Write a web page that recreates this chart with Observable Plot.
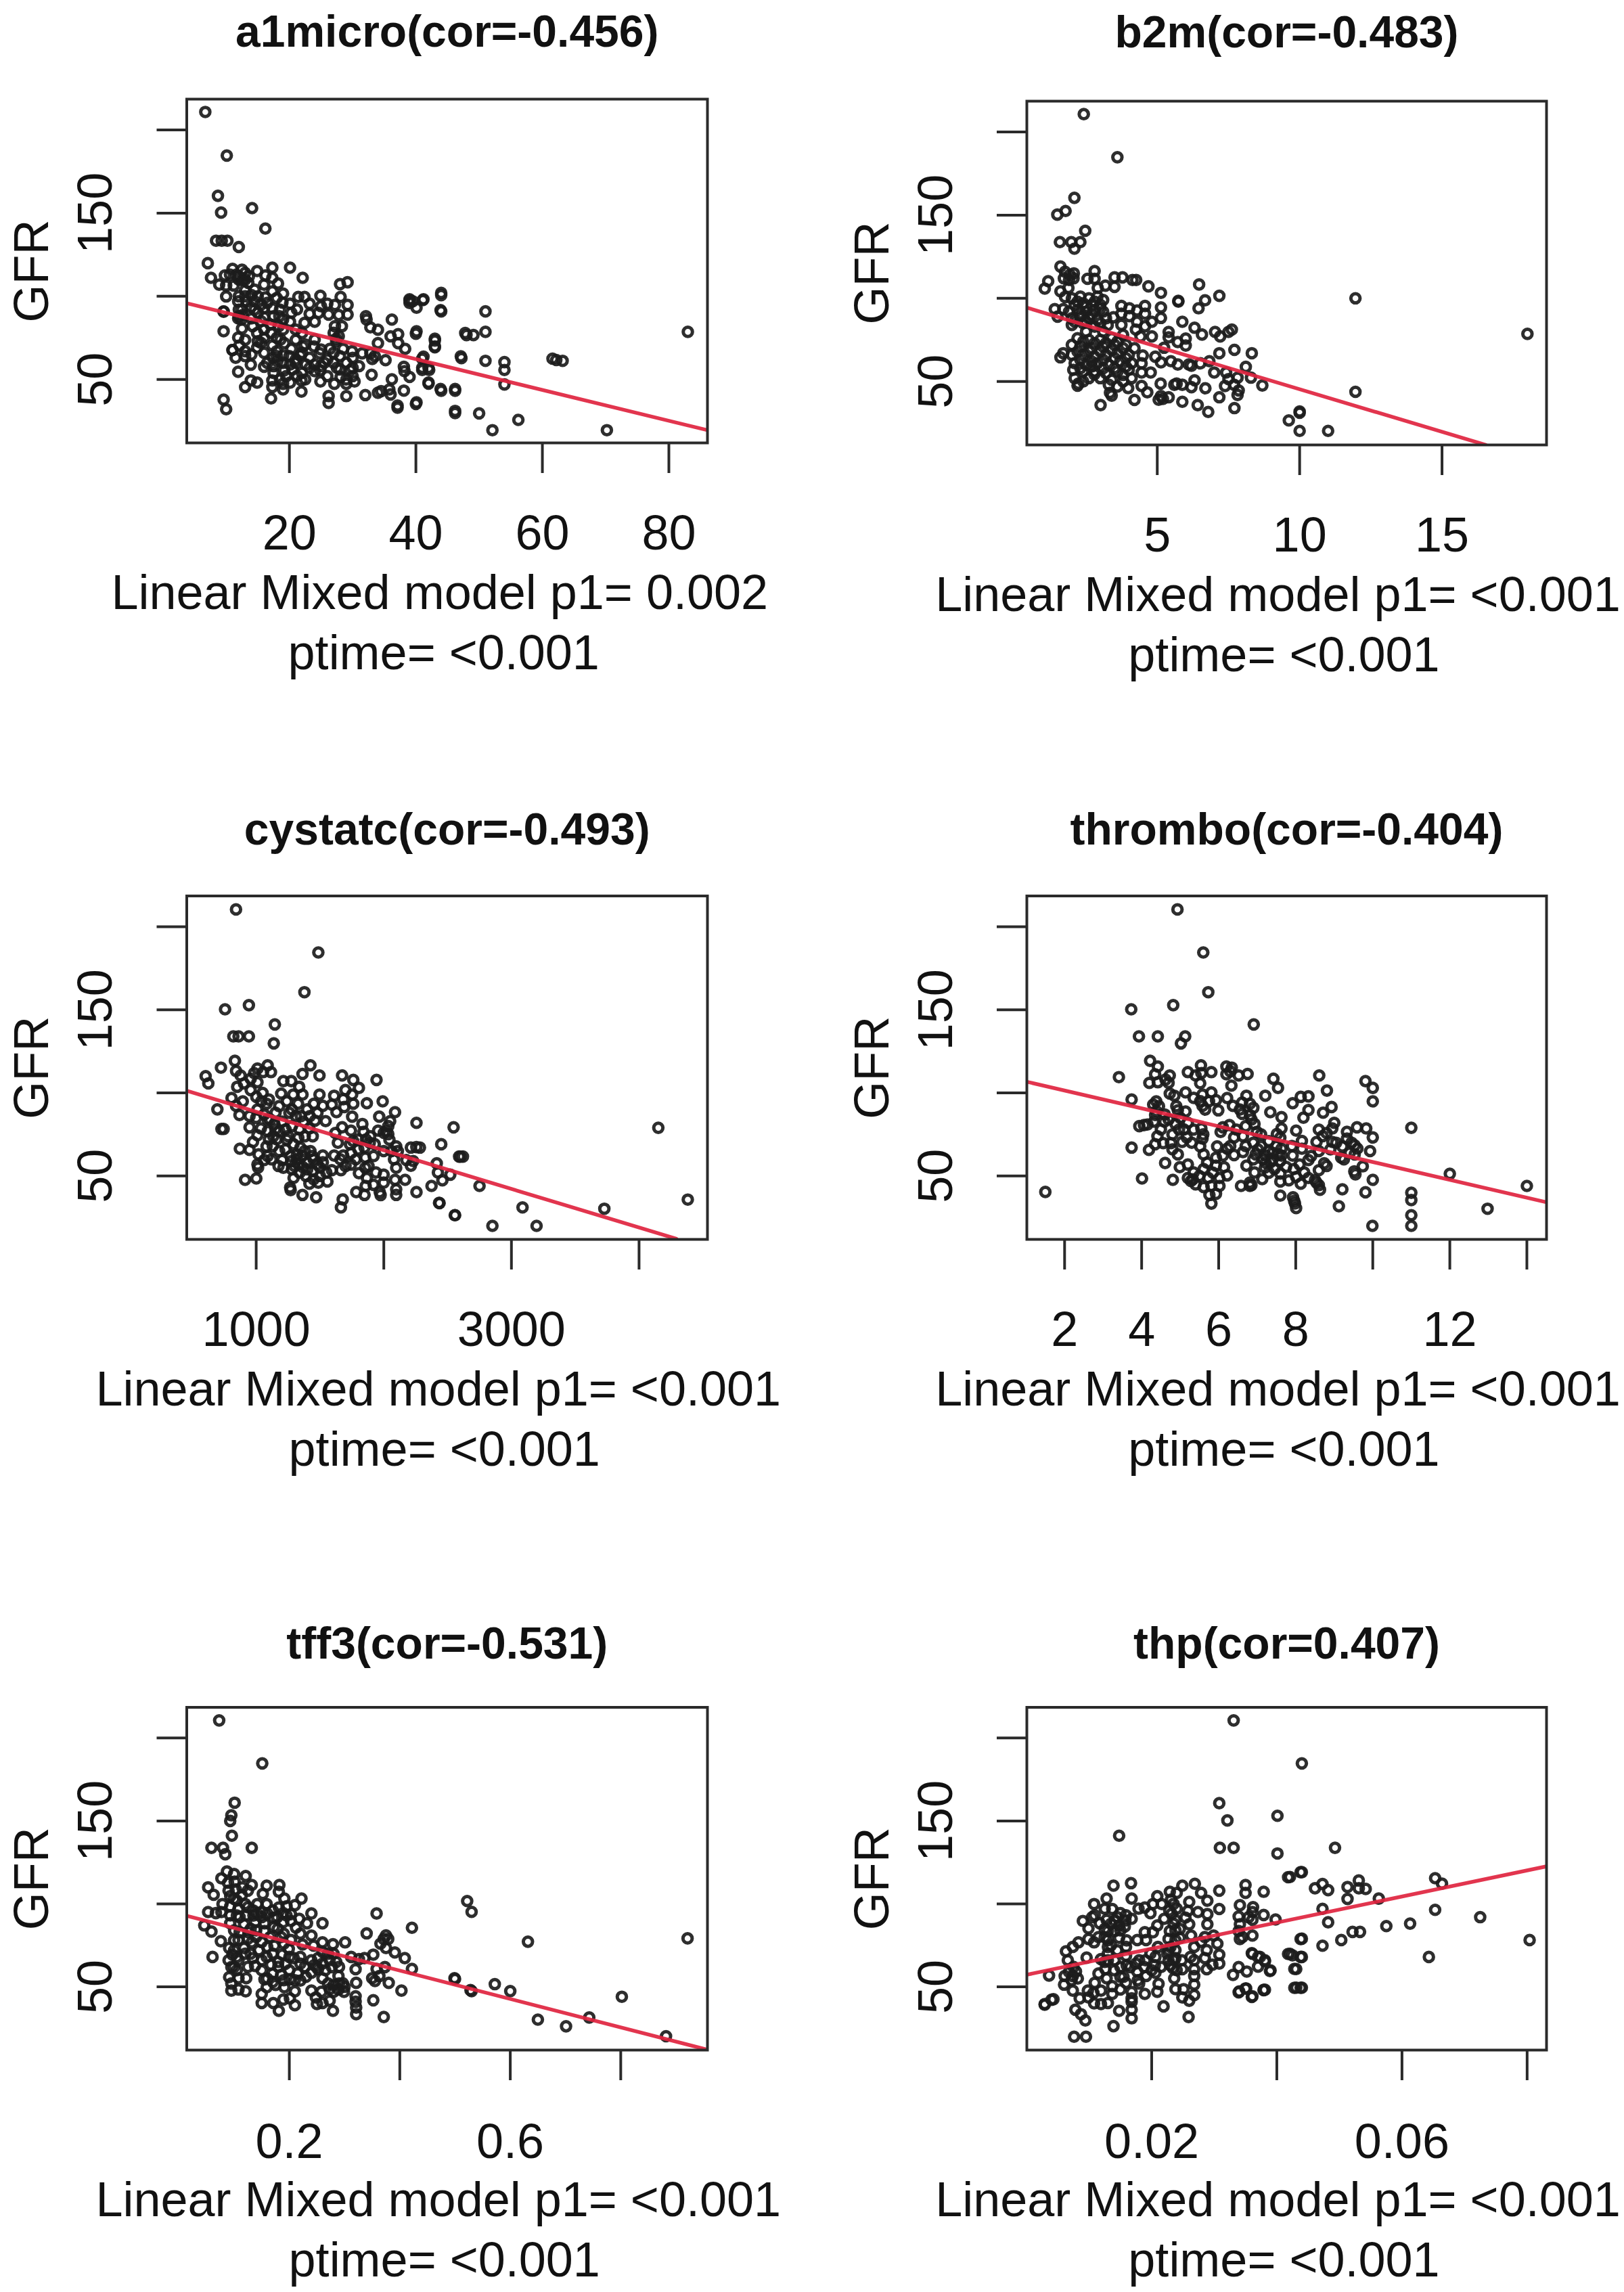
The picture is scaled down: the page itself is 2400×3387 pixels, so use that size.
<!DOCTYPE html>
<html><head><meta charset="utf-8">
<script src="https://cdn.jsdelivr.net/npm/d3@7"></script>
<script src="https://cdn.jsdelivr.net/npm/@observablehq/plot@0.6"></script>
<style>html,body{margin:0;padding:0;background:#fff}#page{position:relative;width:2400px;height:3387px;background:#fff;overflow:hidden}#page>div,#page>svg{position:absolute}</style>
</head><body><div id="page"></div>
<script>
const gfrDomain=[11.85,218.5];
const gfrTicks=[50,100,150,200];
const gfrLabelled=[50,150];

const a1microTicks=[20,40,60,80], a1microLabelled=[20,40,60,80], a1microDomain=[3.77,86.1];
const a1microFit=[[3.77,95.8],[86.1,19.5]];
const a1micro=[[6.7,210.8],[10.1,184.6],[8.7,160.4],[9.2,150.3],[14.1,153],[16.2,140.7],[8.4,133.4],[9.3,133.4],[10.2,133.4],[12,129.6],
[7.1,119.9],[7.6,111.1],[8.9,107],[9.8,112.5],[11,116.5],[10.6,113],[11.6,113],[12.6,109.7],[12,112],[13,110],[13.6,112],[14.9,115.2],[17.3,117.2],[16.2,112.5],[17.3,111.1],[16,107],[18.2,107.7],[20.1,117.2],[22.1,111.1],[10,106.4],[11.2,106.4],[13,103.6],[10,99.9],[14,100.7],[16.2,99.3],[17.3,103],[19,101.6],[11.9,96.9],[13.2,96.9],[13.9,93.5],[16,92.8],[17.3,92.8],[18.9,96.2],[20.1,95.5],[21.4,99.6],[22.4,99.6],[21.2,92.1],[23.2,95.5],[23.2,89.4],[24.9,100.3],[26,95.5],[28.1,99.6],[29.2,94.8],[28,107.3],[29.2,108.4],[27.2,94.8],[26.2,89],[29.2,89],[27.8,88.7],[25,94],[24.6,90],[12,92],[12,88],[14.5,97],[15.5,95],[18,99],[9.6,90.8],[9.6,90.8],[11.9,86.7],[12.6,88.7],[14,86.7],[15,90],[20.3,90.1],[18.4,88],[20.1,84.7],[22.4,84],[24,84.7],[18.3,82],[16,87.4],[14.2,82],[12.5,80.6],[9.6,79],[11.9,75.2],[13,73.8],[14.9,77.9],[17.1,77.9],[16,80],[16,75],[18,75],[19.2,71.8],[21,73.8],[22,77.9],[11,67.7],[11,67.7],[12.1,70.4],[13,67],[14,65],[14.9,69.1],[15.5,72],[17.3,70.4],[18.6,74],[17.4,63],[19,64.4],[20.3,68.4],[21.7,64.4],[22.1,69.8],[23.9,69.8],[23.2,63],[24.8,65.7],[26.4,68.4],[27.4,74.5],[27.4,73],[27.8,76],[27.2,82],[28.3,82],[27,78],[28.5,68.4],[29.9,67],[31.5,65.7],[32.8,65.7],[32.1,88],[32.2,86],[32.8,81.3],[34,79.9],[36.2,86],[36,75.9],[37.2,77.2],[37.2,71.8],[34,71.8],[38.3,68.4],[40.1,78.9],[39,98.2],[39,96],[39.5,97],[41.2,98.2],[40.1,93.1],[44,102],[43.9,91.7],[47.8,77.9],[43,74.5],[43,69.8],[47.1,63.9],[41.2,63.7],[42,56.9],[41,57],[38.1,57.6],[38.2,55],[39,51.5],[42,48.1],[43.9,44.3],[46.2,44.3],[46.2,31.1],[40.1,36.2],[37.1,34.3],[38.1,43.3],[36.2,50.1],[35.8,44],[36,41],[34.5,43],[34,42],[32,40.6],[33,52.8],[35.2,61.6],[33.1,62.3],[33.5,64],[29,40],[26.2,35.9],[26.2,40],[27.1,47.4],[29,47.4],[30.3,48.8],[28.1,51.5],[24.9,48.8],[24.9,55.5],[29.6,55.5],[30,52],[29,60],[31,58],[27.5,57],[26,62],[23.2,56.9],[21.9,42.7],[21.9,49.4],[21.2,52.1],[20.1,48.1],[19,47.4],[19,44],[19.2,55.5],[17.3,49.4],[17.1,38.6],[17.3,45.4],[14.9,48.1],[13.9,49.4],[13,45.4],[11.9,54.6],[13.9,58.9],[16,57.6],[9.6,37.9],[10,32.1],[17.5,58],[18.1,61],[20.1,59],[22,54],[16,66],[18,67],[21,62],[25.5,60],[22.6,59],[24,59],
[83,78.6],[70.2,19.5],[56.2,25.7],[52.1,19.5],[50,29.6],[46.2,29.8],[40,35.3],[37.1,33],[46.2,43.2],[44,43.2],[54,47],[54,55.7],[54,60.4],[51,61.2],[47.2,62.8],[61.6,62.5],[62.2,61.7],[63.2,61.2],[51,78.6],[51,90.9],[48,76.7],[49.1,76.7],[44,100.7],[44,90.9],[41.1,97.7],[39,97.4],[40,77.5],[43,73.4],[43,69.3],[41,62.5],[41,55.7],[42.1,55.7],[42,47.5],
[16.5,60],[17.5,54],[18.5,50],[19.5,52],[20.5,56],[21,60],[22.5,50],[19,60],[18,64],[20,64],[22,66],[24,55],[25,58],[26,52],[27,60],[28,56],[29,50],[30,57],[28,64],[30,63],[25,68],[27,66],[12,110],[13,114],[12.5,116],[13.5,108],[14.5,104],[12,100],[12.5,92],[12.4,86],[13,100],[15,100],[14.5,92],[16.5,96],[17.5,88],[18.5,92],[19,86],[22.5,71],[24,74],[15.5,85],[17,83],[19,80],[21,80],[13,64],[11.5,63],[15,73]];

const b2mTicks=[5,10,15], b2mLabelled=[5,10,15], b2mDomain=[0.42,18.67];
const b2mFit=[[0.42,94.4],[16.53,11.9]];
const b2m=[[2.42,210.7],[3.6,184.8],[2.09,160.4],[1.78,152.5],[1.49,150.3],[2.47,140.6],[1.58,133.8],[1.98,133.8],[2.3,133.8],[2.09,129.8],[18,78.6],[11.96,100],[11.96,43.8],[11,20.3],[10,20.3],[9.62,26.6],[10,31.2],[10,32],[1.6,119.1],[1.76,116],[1.93,114],[2.06,112],[1.9,111],[1.72,112],[2.07,115],[1.17,110.3],[1.05,105.8],[1.6,104.2],[1.88,106.2],[1.76,100.8],[2.55,111.7],[2.8,116.4],[2.8,111.7],[3.5,112.6],[3.78,112.6],[4.13,111],[4.26,111],[2.91,106.2],[3.18,107.6],[3.5,106.9],[4.69,107.2],[5.13,103.3],[6.47,108.3],[7.18,101.5],[6.68,98.8],[6.45,94],[5.74,98.5],[5.74,98],[5.88,85.9],[6.31,82.3],[6.57,78.2],[7.03,79.8],[7.21,77.1],[7.5,79.8],[7.62,81.2],[5.4,79.8],[5.4,76.5],[6,75.8],[5.72,73.7],[6,71.6],[7.18,67],[7.71,69],[8.32,67],[8.11,58.8],[8.29,52.3],[8.69,47.6],[7,55.4],[7.42,55.4],[7.5,51.4],[7.82,52.3],[7.38,47.3],[7.7,48],[7.86,44.6],[7.82,41.9],[7.18,40.5],[7.71,34],[6.79,31.7],[6.42,35.8],[5.88,37.8],[6.69,45.9],[6.2,46.6],[6.31,50.7],[5.68,48.7],[5.6,48],[5.88,48],[5.4,40.5],[5.13,41.2],[5.2,39.5],[5.05,39],[5.12,48.7],[4.2,38.9],[3.01,35.8],[4.65,43.5],[3.98,46],[4.45,47.3],[3.34,43.2],[3.4,41.5],[3.3,48],[2.23,48.7],[2.2,47.5],[2.79,54.3],[4.45,55.4],[4.77,55.4],[4.49,65.6],[4.45,60.9],[4.93,64.9],[5.13,61.5],[5.48,62.2],[5.72,60.2],[6.11,60.2],[6.2,59.5],[6.51,60.9],[6.83,62.2],[5.24,70.3],[4.81,77.1],[4.41,77.1],[4.57,83.2],[4.81,85.9],[4.25,81.2],[4.29,85.9],[5.13,88.2],[5.13,94.5],[4.57,90.7],[4.57,95.4],[4.29,92.7],[4.02,94],[4.02,89.3],[3.74,95.4],[3.74,90.7],[3.46,88.6],[3.26,83.9],[3.74,84],[2.0,100],[2.3,101],[2.6,100],[2.9,101],[3.1,99],[2.1,96],[2.4,97],[2.7,96],[3,96],[1.9,92],[2.2,93],[2.5,92],[2.8,93],[3.1,92],[1.4,93.5],[1.7,93.5],[1.5,89],[2,88],[2.3,89],[2.6,88],[2.9,87],[3.2,88],[2,84],[2.4,85],[2.8,83],[3.1,80],[2.5,80],[2.2,76],[2.6,75],[3,75],[3.4,76],[3.8,78],[2,72],[2.3,71],[2.7,70],[3.1,71],[3.5,72],[3.9,72],[4.2,70],[1.7,67],[1.6,64.5],[2,66],[2.4,66],[2.8,65],[3.2,66],[3.6,67],[4,66],[2.1,61],[2.5,60],[2.9,61],[3.3,60],[3.7,62],[4.1,61],[2.05,57],[2.4,56],[2.8,56],[3.2,55],[3.6,56],[4,57],[2.1,52],[3.4,51],[3.8,50],[4.1,52],[3.6,47],
[2.2,98],[2.5,95],[2.8,98],[3,94],[2.3,91],[2.7,90],[2.1,86],[2.5,86],[3,85],[2.4,74],[2.8,73],[3.2,73],[3.6,74],[2.2,68],[2.6,68],[3,68],[3.4,69],[3.8,70],[2.3,63],[2.7,62],[3.1,63],[3.5,64],[3.9,64],[2.3,58],[2.7,59],[3.1,58],[3.5,58],[3.9,59],[2.6,52],[3,52],[3.8,54],[2.4,50]];

const cystatcTicks=[1000,2000,3000,4000], cystatcLabelled=[1000,3000], cystatcDomain=[456,4536];
const cystatcFit=[[456,101.3],[4293,12.2]];
const cystatc=[[842,210.4],[1487,184.5],[1378,160.6],[756,150.3],[943,152.8],[1146,141.2],[1138,129.8],[821,134],[862,134],[943,134],[4151,79],[4382,35.8],[3728,30.3],[3197,20],[3087,31.1],[2851,20],[2559,26.4],[2437,33.7],[2750,44],[2620,61.7],[2590,61.7],
[604,110.1],[625,105.7],[724,115.2],[833,119.3],[842,113.2],[878,110.5],[904,105.7],[851,103.7],[957,108.5],[1010,114.6],[1090,116.6],[1116,112.5],[1054,112.5],[984,111.9],[1010,106.4],[957,101.7],[1001,97.6],[807,96.9],[895,94.9],[842,92.2],[869,86.7],[948,86.1],[696,90.1],[745,78.3],[728,78.3],[1425,116.6],[1363,111.4],[1496,110.5],[1213,107.1],[1275,107.1],[1337,103.7],[1196,99.6],[1363,99],[1496,99],[1290,99],[1240,94.9],[1328,93.5],[1452,93.5],[1399,90.1],[1522,92.2],[1673,110.5],[1761,107.8],[1805,103],[1699,101.7],[1611,98.3],[1682,96.2],[1752,99],[1593,92.9],[1690,91.5],[1761,93.5],[1629,88.4],[1752,85.7],[1943,107.8],[1867,93.8],[1991,94.9],[2088,88.4],[1964,85.7],[2256,82],[2547,79.3],[2450,69.1],[2212,67.1],[2283,67.1],[2255,67.4],[2600,61.6],[2415,57.6],[2424,52.1],[2521,50.8],[2459,47.4],[2374,44],[2433,33.8],[2556,26.4],[2256,40.3],[2212,56.2],[2097,54.9],[2167,47.7],[2088,47.7],[2097,38.6],[2097,42],[1968,40.3],[1975,38.5],[1849,38.6],[1784,40.3],[1858,44],[1920,44.7],[1867,48.8],[1999,46],[1938,52.1],[1999,50.8],[1855,54.9],[1855,61],[1805,51.7],[1664,53.5],[1664,31.1],[1678,35.9],[1470,37.2],[1363,38.6],[1266,43.1],[1270,41.5],[1001,48.5],[913,47.7],[1010,56.9],[1015,55],[1063,59.6],[1019,63],[1081,67.8],[948,65.7],[872,66.4],[975,70.5],[1010,74.5],[948,79.3],[1037,78.6],[1134,73.9],[1090,62],[1204,59.6],[1275,58.9],[1213,54.9],[1293,48.8],[1417,45.4],[1487,46],[1558,46.7],[1443,52.8],[1593,53.5],[1363,55.5],[1522,58.2],[1611,62.3],[1682,62.3],[1743,63.7],[1743,56.9],[1319,63],[1346,67.1],[1425,65],[1522,62.3],[1240,71.8],[1293,69.1],[1381,73.9],[1443,73.9],[1417,78.6],[1311,86.1],[1372,82.7],[1461,83.3],[1544,83],[1204,82.7],[1152,88.1],[1143,81.3],[1081,93.5],[1063,87],[1673,79.3],[1743,77.3],[1832,81.3],[1620,75.9],[1841,76.6],[1894,73.9],[1955,77.3],[2035,80],[2020,77],[2050,83],[2035,75.2],[2044,71.8],[2097,67.8],[2110,65],[2176,59.6],[2230,59],[1849,67.1],[1929,69.1],[1999,65],[1735,69.1],[1130,68],[1180,65],[1160,72],[1230,66],[1270,62],[1120,60],[1175,56],[1110,84],[1090,77],[1180,77],[1230,78],[1260,88],[1330,73],[1360,62],[1400,58],[1450,60],[1480,57],[1300,56],[1340,52],[1390,50],[1660,60],[1700,56],[1780,60],[1800,66],[1640,70],
[1180,92],[1280,90],[1350,86],[1420,86],[1480,88],[1150,78],[1100,72],[1280,80],[1340,78],[1250,74],[1320,60],[1380,65],[1440,62],[1500,55],[1550,52],[1280,54],[1330,57],[1400,54],[1450,48],[1500,50],[1100,96],[1050,100],[1010,90],[1040,95],[1090,84],[1000,85],[1760,71],[1800,72],[1860,72],[1890,70],[1920,62],[2000,76],[2060,65],[2080,60],[1880,56]];

const thromboTicks=[2,4,6,8,10,12,14], thromboLabelled=[2,4,6,8,12], thromboDomain=[1.02,14.51];
const thromboFit=[[1.02,106.7],[14.51,34.2]];
const thrombo=[[4.93,210.4],[5.6,184.5],[5.73,160.6],[4.82,152.8],[3.73,150.3],[6.91,141.2],[3.93,134],[4.42,134],[5.13,134],[5.02,129.8],[1.5,40.4],[14,44],[12.98,30.3],[12,51.3],[11,79],[11,39.9],[11,35.5],[11,26.4],[11,20],[9.99,20],
[3.41,109.5],[3.74,96],[4.22,119.3],[4.42,115.9],[4.35,111.2],[4.2,106],[4.42,106.4],[4.73,110.5],[4.7,106],[4.62,108],[5.2,112.5],[5.54,116.6],[5.4,110.5],[5.55,111.9],[5.81,112.5],[5.52,105.8],[6.2,115.9],[6.34,115.2],[6.2,111.2],[6.3,113],[6.52,110.5],[6.75,111.4],[6.33,104.4],[7.42,108.5],[7.54,103],[7.21,98.3],[6.72,98.3],[6.22,96.9],[5.93,95.6],[5.81,100.3],[5.58,99],[5.14,100.3],[4.85,98.3],[4.73,99.6],[5.58,92.2],[5.65,90],[5.52,95],[5.99,89.5],[5.14,88.8],[4.94,89.5],[4.38,94.9],[4.3,93],[4.45,92],[4.38,89],[4.35,86.7],[4.32,82.7],[4.59,82.7],[4.06,80.6],[4.15,81],[3.94,80],[3.74,67.1],[4.19,65.7],[4.41,73.9],[4.35,69.1],[4.56,69.8],[4.76,69.8],[4.94,63],[4.8,66],[4.61,57.8],[4.99,55.3],[5.2,56.9],[4.01,48.5],[4.81,47.7],[5.2,48.8],[5.28,47],[5.35,52.1],[5.33,48],[5.61,43.3],[5.81,44],[6.02,44],[5.76,38.6],[5.93,39.3],[5.81,33.4],[5.73,48.8],[6.02,48.8],[6.22,50.4],[5.61,54.2],[5.93,56.2],[6.14,55.3],[5.61,63],[5.93,61],[6.11,62.3],[6.4,62.6],[6.63,64.4],[6.22,66.4],[5.96,67.8],[5.52,67.8],[6.96,63],[6.93,52.1],[6.72,56.2],[7.13,48.1],[6.81,46],[6.85,44.5],[6.58,44],[6.81,44],[7.22,62.3],[7.15,60],[7.3,65],[7.34,58.2],[7.45,54.2],[7.22,58],[7.02,66],[7.6,51.5],[7.6,46.7],[7.82,47.4],[8.01,49.4],[8.13,45.4],[8.33,48.8],[8.22,52.1],[7.75,55.5],[7.95,54.2],[8.33,59.6],[8.6,53.5],[8.54,46],[8.6,44.5],[8.5,47.5],[8.63,41.7],[9.21,42],[9.81,40.2],[10,47.7],[9.52,52.8],[9.55,51],[9.74,55.8],[9.93,65],[9.12,31.8],[8.01,30.7],[7.93,37.2],[7.96,35],[7.98,33.5],[7.6,38.2],[8.74,57.6],[8.8,56],[8.1,56.9],[7.63,62.3],[7.92,62.3],[8.16,66.4],[7.63,66.4],[8.54,70.5],[8.16,71.1],[8.01,77.3],[7.63,78.6],[7.51,75.2],[7.6,73],[7.34,88.4],[7.63,85.4],[7.92,93.8],[8.13,97.6],[8.33,97.9],[8.2,85.1],[8.33,89.7],[8.71,88.1],[8.93,91.5],[8.81,101.4],[8.61,110.5],[9,82],[8.6,77.9],[8.95,78.6],[8.8,75.9],[8.7,74],[8.95,70.5],[9.33,76.6],[9.59,79.3],[9.83,78.6],[10,73.2],[9.33,72.5],[9.53,68.4],[9.6,66.5],[9.21,67.8],[9.53,63],[9.18,61],[9.25,60],[9.81,107.1],[10,103],[10,94.9],[6.11,79.3],[6.05,76.5],[6.28,80.6],[6.46,77.9],[6.4,73.2],[6.63,73.9],[6.93,81.3],[6.85,84],[6.99,76.6],[6.9,70],[6.81,86.7],[6.81,93.5],[6.9,91],[6.61,94.2],[6.37,92.2],[6.61,87.4],[5.35,77.9],[5.55,78.6],[5.58,72.5],[5.6,75],[5.17,73.2],[4.97,77.9],[5.05,70.5],[4.88,81.3],[4.6,87],[5,85],[5.2,82],[6.7,68],[7.3,71],[7.1,75],[6.3,68],[7.4,64],[7.6,59],
[4.5,78],[4.8,75],[5.1,78],[5.3,70],[4.7,84],[4.9,92],[5.35,97],[5.75,95],[6.55,90],[6.7,80],[7.2,55],[7.4,60],[7.5,68],[7.1,68],[6.9,60],[7.3,52],[7.55,63],[5.7,58],[5.85,52],[5.5,50],[5.4,45],[8.4,62],[8.6,65],[8.9,66],[7.9,68],[9.05,70],[9.4,64],[9.45,70]];

const tff3Ticks=[0.2,0.4,0.6,0.8], tff3Labelled=[0.2,0.6], tff3Domain=[0.0143,0.957];
const tff3Fit=[[0.0143,92.8],[0.957,12.1]];
const tff3=[[0.073,210.6],[0.151,184.7],[0.101,161],[0.095,153.4],[0.093,150],[0.096,141.1],[0.059,133.8],[0.08,133.8],[0.084,129.9],[0.132,133.8],[0.921,79.2],[0.882,20.2],[0.802,44],[0.743,31.5],[0.701,26.2],[0.65,30.2],[0.632,77.2],[0.6,47.4],[0.572,51.6],[0.53,47.4],[0.528,48],[0.5,54.7],[0.522,101.7],[0.53,95.2],
[0.087,119.5],[0.077,115.4],[0.053,110],[0.063,105.5],[0.121,116.8],[0.132,111.4],[0.159,111],[0.182,111.4],[0.181,107.3],[0.152,106],[0.191,103.2],[0.222,103.2],[0.089,112.7],[0.101,113.4],[0.103,108.7],[0.093,104.6],[0.114,105.3],[0.079,99.9],[0.093,98.5],[0.12,99.9],[0.142,99.9],[0.159,99.9],[0.181,97.8],[0.195,98.5],[0.21,99.2],[0.053,95.1],[0.067,94.4],[0.077,95.1],[0.093,93.1],[0.108,97.1],[0.122,93.1],[0.142,93.8],[0.171,91.7],[0.189,94.4],[0.203,93.8],[0.218,91],[0.24,94.2],[0.26,88.3],[0.232,88.3],[0.203,89.7],[0.189,89],[0.155,88.3],[0.138,89],[0.118,87.7],[0.093,88.3],[0.046,87],[0.059,83.3],[0.11,82.9],[0.126,82.9],[0.155,83.6],[0.179,85],[0.212,85.6],[0.24,80.9],[0.203,78.2],[0.108,78.2],[0.076,77.5],[0.091,73.4],[0.118,73.4],[0.132,76.8],[0.173,74.8],[0.199,72.8],[0.224,75.5],[0.244,74.8],[0.26,76.8],[0.279,75.7],[0.301,76.8],[0.34,82.2],[0.358,94.2],[0.422,85.6],[0.061,68],[0.097,69.4],[0.108,66],[0.095,61.9],[0.134,67.3],[0.159,68],[0.187,69.4],[0.138,62.6],[0.167,63.3],[0.193,63.9],[0.208,67.3],[0.228,61.9],[0.252,67.3],[0.273,66],[0.277,61.9],[0.252,60.6],[0.312,68],[0.326,66.7],[0.336,67.3],[0.352,69.4],[0.371,78.8],[0.365,76],[0.375,81],[0.379,78.8],[0.375,73.4],[0.391,70.7],[0.409,67.3],[0.422,60.8],[0.373,61.9],[0.358,60.8],[0.32,60.6],[0.499,55.2],[0.35,55.2],[0.355,53.5],[0.363,56.5],[0.38,52.4],[0.403,47.7],[0.352,41.9],[0.371,31.8],[0.321,52.4],[0.32,44.3],[0.32,41],[0.321,37.5],[0.321,33.5],[0.289,56.5],[0.289,48.4],[0.28,51],[0.297,52],[0.299,47],[0.273,48.6],[0.279,35.5],[0.273,41.6],[0.26,40.2],[0.25,39.6],[0.248,43.6],[0.258,47],[0.24,47.7],[0.26,55.2],[0.24,58.5],[0.21,38.9],[0.21,47.3],[0.201,43],[0.189,42.3],[0.181,35.5],[0.171,40.2],[0.15,40.2],[0.15,45.7],[0.159,49.7],[0.175,51.1],[0.191,49.7],[0.201,54.5],[0.22,53.8],[0.185,57.2],[0.155,54.5],[0.122,55.2],[0.108,55.2],[0.091,55.8],[0.121,47.3],[0.108,48.4],[0.095,47.7],[0.095,52],[0.105,60],[0.125,62],[0.15,60],[0.17,58],[0.2,60],[0.215,58],[0.23,56],[0.12,70],[0.145,72],[0.17,70],[0.2,68],[0.15,77],[0.165,80],[0.185,80],[0.22,68],[0.245,63],[0.265,60],[0.26,71],[0.28,70],[0.29,62],[0.1,78],[0.125,79],[0.1,84],[0.14,84],[0.135,93],[0.11,92],[0.15,95],[0.172,86],[0.19,82],[0.22,82],[0.105,102],[0.125,108],[0.1,118],
[0.09,108],[0.1,103],[0.105,93],[0.115,110],[0.125,98],[0.135,96],[0.15,92],[0.16,94],[0.17,96],[0.178,92],[0.195,93],[0.13,85],[0.1,72],[0.105,68],[0.09,66],[0.1,62],[0.16,55],[0.17,53],[0.18,62],[0.19,54],[0.21,54],[0.15,66],[0.18,65],[0.22,64],[0.24,66],[0.26,64],[0.27,70],[0.25,62],[0.285,65],[0.27,52],[0.29,52],[0.28,47],[0.3,50],[0.13,70],[0.16,74],[0.19,76],[0.14,80]];

const thpTicks=[0.02,0.04,0.06,0.08], thpLabelled=[0.02,0.06], thpDomain=[0.00005,0.0831];
const thpFit=[[0.00005,57.3],[0.0831,122.6]];
const thp=[[0.0331,210.6],[0.044,184.7],[0.0308,160.7],[0.0321,150.3],[0.0401,153.1],[0.0148,141.1],[0.0309,133.8],[0.0331,133.8],[0.0401,130.4],[0.0493,133.8],[0.0421,116.2],[0.044,119.1],[0.0461,109.4],[0.0473,112],[0.0482,108.3],[0.0513,110.2],[0.0513,103],[0.0531,114.1],[0.0531,109.4],[0.0542,109],[0.0563,103.2],[0.0473,97],[0.0482,88.9],[0.0521,83.1],[0.0533,83.1],[0.0503,78.2],[0.0473,74.8],[0.0575,86.6],[0.0613,88.1],[0.0653,96.4],[0.0725,92],[0.0804,78.2],[0.0643,68],[0.0653,115.5],[0.0664,112.2],[0.044,79],[0.044,68],[0.0421,69.9],[0.0425,69],[0.0431,60.7],[0.0431,49.5],[0.044,49.5],[0.0381,48.2],[0.0379,48],[0.0361,44.3],[0.034,47.2],[0.035,49],[0.039,59.9],[0.0361,69.9],[0.0373,68],[0.0381,66],[0.0036,56.8],[0.0029,39.6],[0.004,42.2],
[0.0139,111],[0.0167,112.5],[0.0128,103.2],[0.0168,103.2],[0.0108,99.9],[0.0109,93.1],[0.009,89.7],[0.0099,85.2],[0.0137,96.9],[0.015,94.4],[0.0159,93.1],[0.0128,90.4],[0.0141,89.7],[0.0168,91],[0.0117,88.3],[0.013,83.6],[0.0141,83.6],[0.0157,86.3],[0.013,78.2],[0.0148,79.5],[0.013,74.1],[0.0099,78.8],[0.0108,76.8],[0.0083,76.8],[0.0074,74.1],[0.0063,71.4],[0.0066,66],[0.0096,67.6],[0.0119,66.7],[0.013,66],[0.0159,74.1],[0.0177,78.2],[0.0191,78.2],[0.0189,82.9],[0.0202,82.9],[0.0209,87],[0.022,91],[0.0198,94.4],[0.0179,97.1],[0.0189,97.8],[0.0202,99.9],[0.0209,104.6],[0.0229,107.3],[0.0249,111],[0.0269,112.1],[0.024,106.6],[0.0279,106.6],[0.0289,101.9],[0.0308,108],[0.0308,96.9],[0.026,101.2],[0.0231,102.6],[0.024,97.1],[0.0216,99.9],[0.0258,95.8],[0.0274,95.1],[0.0289,93.8],[0.0238,90.4],[0.0254,91.7],[0.0289,87.7],[0.0229,83.6],[0.0245,84.9],[0.026,87.7],[0.0227,78.8],[0.0245,79.5],[0.0263,80.9],[0.0268,74.1],[0.0279,77.1],[0.0299,80.9],[0.0288,72.1],[0.0308,69.4],[0.0308,64],[0.0288,60.6],[0.0297,63.3],[0.0285,67.3],[0.0268,66],[0.0268,60.6],[0.0268,56.5],[0.0268,51.3],[0.0268,45],[0.026,41.6],[0.0249,43.6],[0.0251,48.6],[0.0238,48.6],[0.0249,60.6],[0.0234,61.2],[0.023,63],[0.0236,55.1],[0.0238,67.3],[0.0227,66],[0.0238,72.1],[0.0227,72],[0.0206,68],[0.0206,58.5],[0.0191,56.5],[0.0177,59.2],[0.0188,61.9],[0.0166,61.9],[0.015,61.9],[0.0126,60.6],[0.0141,66],[0.0159,68.7],[0.018,66],[0.0211,51.8],[0.0209,47],[0.0189,45.7],[0.0168,46.8],[0.0159,52.4],[0.015,48.4],[0.0137,45.7],[0.0137,50.4],[0.0128,55.1],[0.0119,47.7],[0.0109,52.4],[0.0107,46.3],[0.0098,47.7],[0.0099,43.6],[0.0085,43],[0.0074,47.7],[0.006,51.3],[0.0061,56.5],[0.0074,56.5],[0.0068,59],[0.0072,54],[0.0079,59.2],[0.0108,40],[0.0119,39.6],[0.013,40.2],[0.0148,35.5],[0.0168,40.9],[0.0168,43],[0.0168,36.2],[0.0168,31],[0.0139,26.3],[0.0095,19.9],[0.0076,19.9],[0.0094,29.7],[0.0087,33.5],[0.0078,36.2],[0.0043,42.5],[0.0029,39.2],[0.0219,38.2],[0.0259,31.8],[0.033,57.2],[0.0339,61.9],[0.0352,59.2],[0.036,70.3],[0.037,68],[0.0381,65.3],[0.037,62.2],[0.0389,59.5],[0.0418,69.8],[0.0438,68],[0.0428,60.8],[0.0438,78.8],[0.0428,49.4],[0.0438,49.4],[0.0339,46.7],[0.0351,49],[0.036,43.9],[0.0379,48.1],[0.0341,99.2],[0.0339,92.4],[0.0341,87.7],[0.035,111.4],[0.035,106.6],[0.0379,107.3],[0.0341,78.8],[0.0345,80],[0.0361,80.9],[0.0361,95.1],[0.0355,92],[0.0362,98],[0.0361,90.4],[0.0379,93.3],[0.0398,90.6],[0.0339,83.6],[0.0418,116.1],[0.0438,119.1],[0.0155,56],[0.0178,54],[0.0215,62],[0.0115,58],[0.013,70],[0.0145,72],[0.021,74],[0.0238,78],[0.0238,84],[0.0232,94],[0.0225,70],[0.0198,70],[0.0115,80],[0.0148,87],
[0.0125,85],[0.0135,88],[0.0125,80],[0.0135,75],[0.015,84],[0.016,78],[0.0235,100],[0.0228,96],[0.0235,88],[0.023,74],[0.0235,66],[0.024,60],[0.0125,65],[0.014,60],[0.016,63],[0.0175,64],[0.019,66],[0.02,60],[0.0205,63],[0.015,56],[0.018,52],[0.0075,62],[0.0082,55],[0.0248,66],[0.0262,68],[0.0105,92],[0.0125,97],[0.0145,92],[0.0158,90],[0.0285,80],[0.0305,76]];

const bottomLabel1=["Linear Mixed model p1= 0.002","Linear Mixed model p1= <0.001","Linear Mixed model p1= <0.001","Linear Mixed model p1= <0.001","Linear Mixed model p1= <0.001","Linear Mixed model p1= <0.001"];
const bottomLabel2="ptime= <0.001";

const fontFamily="'Liberation Sans', Arial, Helvetica, sans-serif";
const ink="#2a2a2a";
function panel(o){
  const ml=o.left-o.ox, mr=o.ox+1200-o.right, mt=o.top-o.oy, mb=o.oy+o.h-o.bottom;
  const fit=o.fit.map(d=>({x:d[0],y:d[1]}));
  const plot=Plot.plot({
    width:1200,height:o.h,marginLeft:ml,marginRight:mr,marginTop:mt,marginBottom:mb,
    style:{background:"transparent",overflow:"visible",fontFamily,color:"#111"},
    x:{domain:o.xDomain,label:null},y:{domain:gfrDomain,label:null},
    marks:[
      Plot.axisX({ticks:o.xTicks,tickSize:45,tickPadding:o.xPad,fontSize:72,label:null,stroke:ink,strokeWidth:4,fill:"#111",tickFormat:d=>o.xLabelled.includes(d)?String(d):""}),
      Plot.axisY({ticks:gfrTicks,tickSize:44,tickPadding:67,fontSize:72,label:null,stroke:ink,strokeWidth:4,fill:"#111",tickRotate:-90,textAnchor:"middle",lineAnchor:"bottom",tickFormat:d=>gfrLabelled.includes(d)?String(d):""}),
      Plot.dot(o.data,{x:d=>d[0],y:d=>d[1],r:6.8,stroke:"#1c1c1c",strokeWidth:5,fill:"none",strokeOpacity:0.92}),
      Plot.line(fit,{x:"x",y:"y",stroke:"#e0243f",strokeWidth:5.5,strokeOpacity:0.92,clip:true}),
      Plot.frame({stroke:ink,strokeWidth:4}),
      Plot.text([o.title],{frameAnchor:"top",dy:o.titleDy,fontSize:66,fontWeight:"bold",fill:"#111",lineAnchor:"middle"}),
      Plot.text(["GFR"],{frameAnchor:"left",dx:-228,rotate:-90,textAnchor:"middle",fontSize:72,fill:"#111",lineAnchor:"middle"}),
      Plot.text([o.line1],{frameAnchor:"bottom",dx:o.dx1,dy:222,fontSize:72,fill:"#111",lineAnchor:"middle"}),
      Plot.text([bottomLabel2],{frameAnchor:"bottom",dx:o.dx2,dy:311,fontSize:72,fill:"#111",lineAnchor:"middle"})
    ]
  });
  plot.style.position="absolute";plot.style.left=o.ox+"px";plot.style.top=o.oy+"px";plot.style.maxWidth="none";
  document.getElementById("page").appendChild(plot);
}
const L=[275.5,1045], R=[1517,2285];
panel({ox:0,oy:0,h:1180,left:L[0],right:L[1],top:146,bottom:654,xPad:61,titleDy:-99,xDomain:a1microDomain,xTicks:a1microTicks,xLabelled:a1microLabelled,data:a1micro,fit:a1microFit,title:"a1micro(cor=-0.456)",line1:bottomLabel1[0],dx1:-11,dx2:-5});
panel({ox:1200,oy:0,h:1180,left:R[0],right:R[1],top:149,bottom:657,xPad:61,titleDy:-101,xDomain:b2mDomain,xTicks:b2mTicks,xLabelled:b2mLabelled,data:b2m,fit:b2mFit,title:"b2m(cor=-0.483)",line1:bottomLabel1[1],dx1:-13,dx2:-4});
panel({ox:0,oy:1180,h:1200,left:L[0],right:L[1],top:1323.5,bottom:1831,xPad:61,titleDy:-97,xDomain:cystatcDomain,xTicks:cystatcTicks,xLabelled:cystatcLabelled,data:cystatc,fit:cystatcFit,title:"cystatc(cor=-0.493)",line1:bottomLabel1[2],dx1:-13,dx2:-4});
panel({ox:1200,oy:1180,h:1200,left:R[0],right:R[1],top:1323.5,bottom:1831,xPad:61,titleDy:-97,xDomain:thromboDomain,xTicks:thromboTicks,xLabelled:thromboLabelled,data:thrombo,fit:thromboFit,title:"thrombo(cor=-0.404)",line1:bottomLabel1[3],dx1:-13,dx2:-4});
panel({ox:0,oy:2380,h:1007,left:L[0],right:L[1],top:2522.5,bottom:3029,xPad:63,titleDy:-93,xDomain:tff3Domain,xTicks:tff3Ticks,xLabelled:tff3Labelled,data:tff3,fit:tff3Fit,title:"tff3(cor=-0.531)",line1:bottomLabel1[4],dx1:-13,dx2:-4});
panel({ox:1200,oy:2380,h:1007,left:R[0],right:R[1],top:2522.5,bottom:3029,xPad:63,titleDy:-93,xDomain:thpDomain,xTicks:thpTicks,xLabelled:thpLabelled,data:thp,fit:thpFit,title:"thp(cor=0.407)",line1:bottomLabel1[5],dx1:-13,dx2:-4});
</script></body></html>
